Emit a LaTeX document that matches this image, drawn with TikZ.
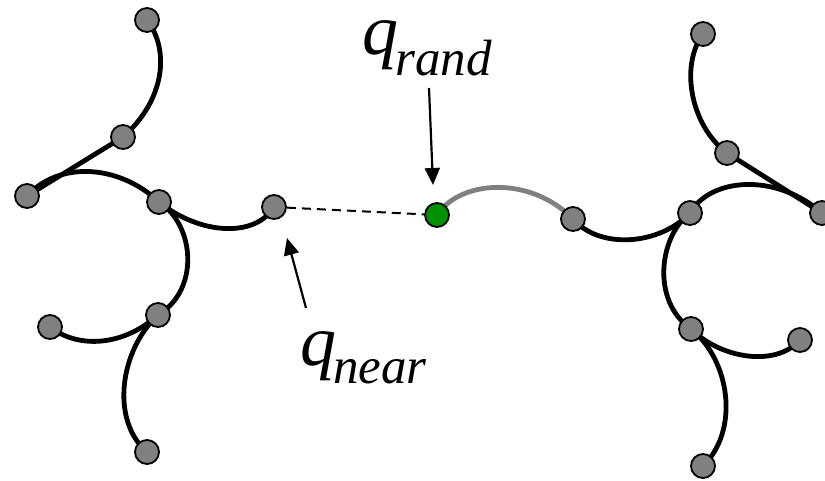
\documentclass[tikz,border=0pt]{standalone}
\usepackage{fontspec}
\setmainfont{Liberation Serif}
\newfontfamily\lblfont{Liberation Serif Italic}
\usetikzlibrary{arrows.meta,backgrounds}

\definecolor{vtxgray}{RGB}{128,128,128}
\definecolor{vtxgreen}{RGB}{0,145,0}

\tikzset{
  vtx/.style={circle, draw=black, line width=1.8pt, fill=vtxgray,
              minimum size=24pt, inner sep=0pt},
  newvtx/.style={vtx, fill=vtxgreen},
  branch/.style={line width=4.8pt, black},
  newbranch/.style={line width=4.8pt, vtxgray},
  link/.style={line width=2pt, dash pattern=on 9pt off 6pt},
  ptr/.style={line width=2.2pt, -{Triangle[length=17pt,width=15pt]}},
  lbl/.style={anchor=base west, inner sep=0pt, text height=32pt, text depth=0pt}
}

% q with an italic subscript, lowered by #2
\newcommand{\qlabel}[2]{\lblfont\fontsize{72}{72}\selectfont q\kern-3pt\raisebox{-#2}{\fontsize{51}{51}\selectfont #1}}

\begin{document}
\begin{tikzpicture}[x=1pt, y=-1pt]
\useasboundingbox (0,0) rectangle (825,480);

% left tree
\node[vtx] (A) at (147,20) {};
\node[vtx] (B) at (123,137) {};
\node[vtx] (C) at (27,196) {};
\node[vtx] (D) at (159,202) {};
\node[vtx] (E) at (274,207) {};
\node[vtx] (F) at (158,315) {};
\node[vtx] (G) at (50,327) {};
\node[vtx] (H) at (147,452) {};

% right tree
\node[vtx] (a) at (703,34) {};
\node[vtx] (b) at (727,153) {};
\node[vtx] (c) at (822,213) {};
\node[vtx] (d) at (690,213) {};
\node[vtx] (e) at (573,219) {};
\node[vtx] (f) at (691,329) {};
\node[vtx] (g) at (800,340) {};
\node[vtx] (h) at (703,466) {};

% sampled configuration
\node[newvtx] (rnd) at (437,215) {};

\begin{scope}[on background layer]
  \draw[branch] (A.center) .. controls (170,50) and (165,100) .. (B.center);
  \draw[branch] (B.center) -- (C.center);
  \draw[branch] (C.center) .. controls (60,160) and (120,165) .. (D.center);
  \draw[branch] (D.center) .. controls (200,235) and (255,238) .. (E.center);
  \draw[branch] (D.center) .. controls (195,225) and (200,290) .. (F.center);
  \draw[branch] (G.center) .. controls (80,350) and (125,345) .. (F.center);
  \draw[branch] (F.center) .. controls (120,350) and (110,420) .. (H.center);

  \draw[branch] (a.center) .. controls (680,65) and (690,125) .. (b.center);
  \draw[branch] (b.center) -- (c.center);
  \draw[branch] (d.center) .. controls (710,178) and (775,172) .. (c.center);
  \draw[branch] (e.center) .. controls (600,250) and (660,245) .. (d.center);
  \draw[branch] (d.center) .. controls (660,235) and (650,300) .. (f.center);
  \draw[branch] (f.center) .. controls (720,358) and (775,368) .. (g.center);
  \draw[branch] (f.center) .. controls (730,360) and (740,430) .. (h.center);

  \draw[newbranch] (rnd.center) .. controls (460,180) and (530,175) .. (e.center);
\end{scope}

\draw[link] (E) -- (rnd);

% labels and pointers
\node[lbl] (qrand) at (362,54) {\qlabel{rand}{21pt}};
\node[lbl] (qnear) at (300,365) {\qlabel{near}{18pt}};

\coordinate (randtail) at (429,88);
\coordinate (randtip) at (433,185);
\coordinate (neartail) at (306,308);
\coordinate (neartip) at (287,238);

\draw[ptr] (randtail) -- (randtip);
\draw[ptr] (neartail) -- (neartip);
\end{tikzpicture}
\end{document}
